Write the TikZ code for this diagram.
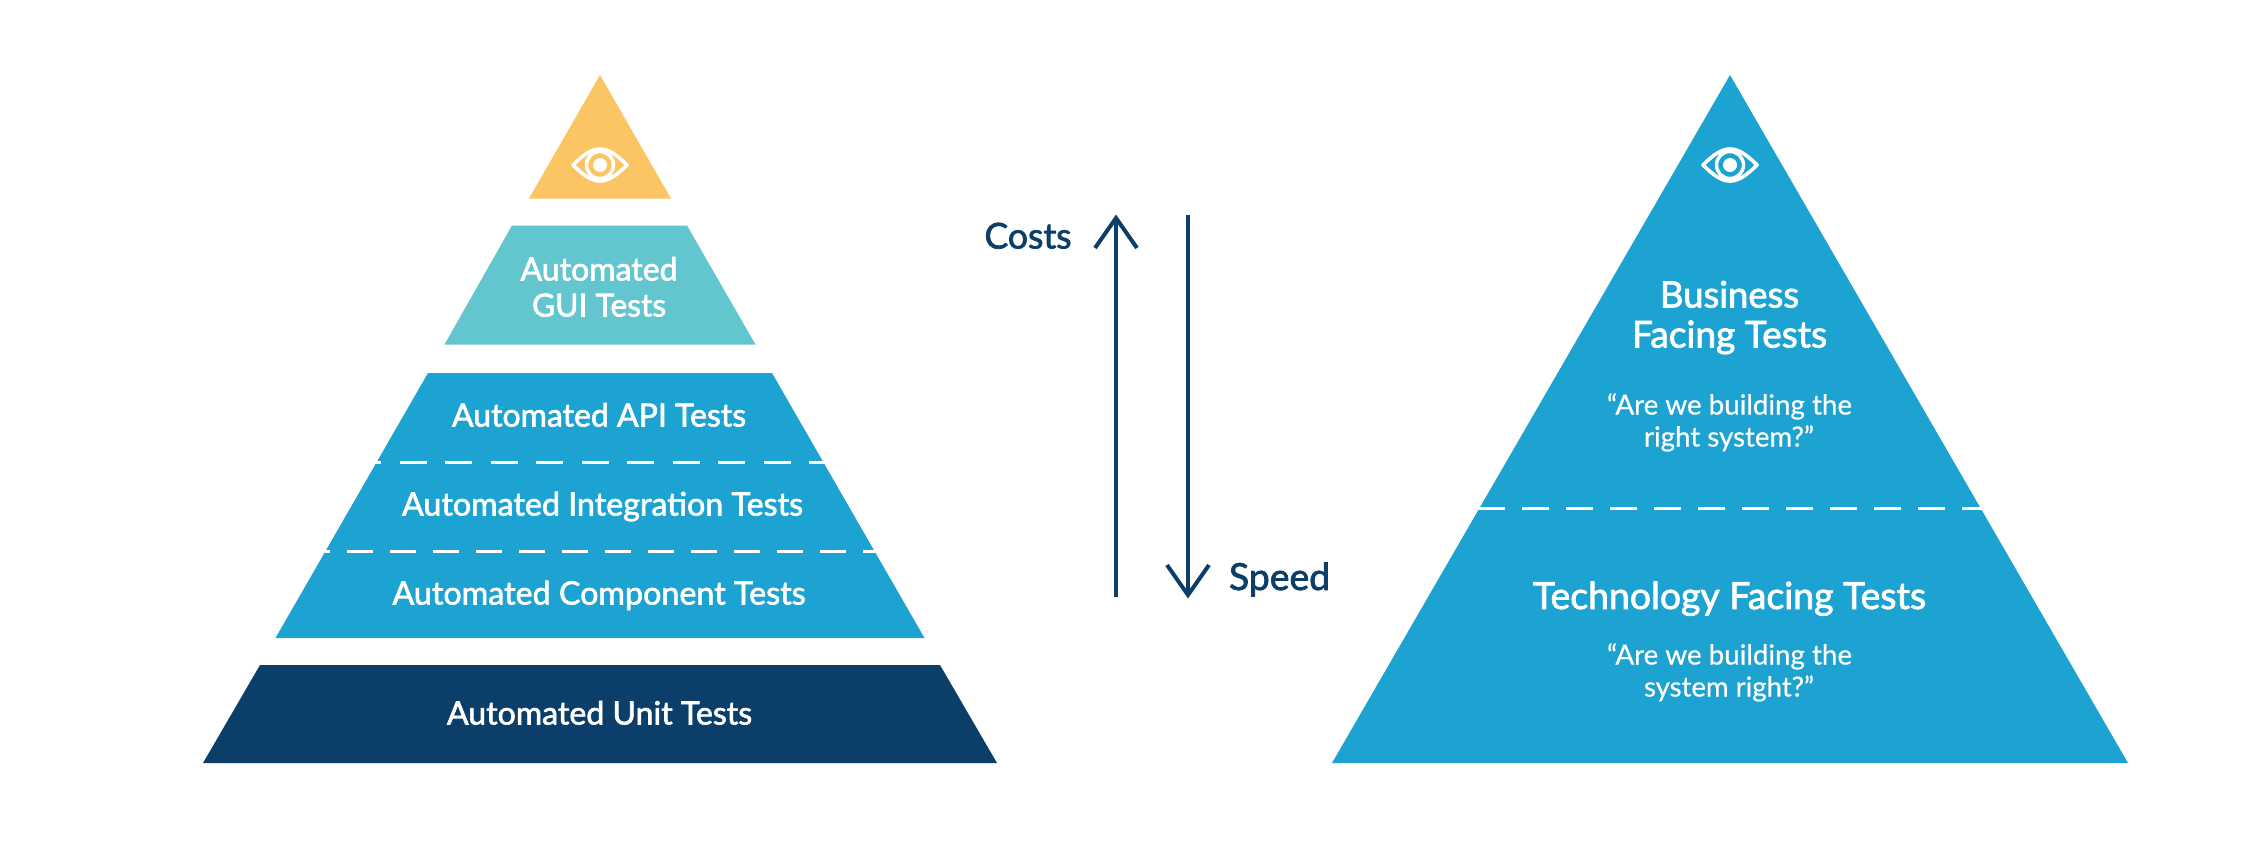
\documentclass[tikz,border=0pt]{standalone}
\usepackage{fontspec}
\setmainfont[FakeBold=0.5]{Lato}
\newfontfamily\med[FakeBold=2]{Lato}
\definecolor{cyellow}{HTML}{FBC564}
\definecolor{cteal}{HTML}{63C6CE}
\definecolor{cblue}{HTML}{1DA3D2}
\definecolor{cnavy}{HTML}{0B3F69}
\newcommand{\fitw}[2]{\resizebox{#1pt}{!}{#2}}
\tikzset{
  x=1pt,y=-1pt,
  lbl/.style={anchor=base,text=white,inner sep=0pt,outer sep=0pt},
  sep/.style={draw=white,line width=3.9pt},
  axis/.style={draw=cnavy,line width=4pt},
  axlbl/.style={anchor=base,text=cnavy,inner sep=0pt,outer sep=0pt},
  eye/.pic={
    \draw[white,line width=3.6pt,line join=round]
      (-27,0) .. controls (-16,-11) and (-8,-16) .. (0,-16) .. controls (8,-16) and (16,-11) .. (27,0)
      .. controls (16,11) and (8,16) .. (0,16) .. controls (-8,16) and (-16,11) .. (-27,0) -- cycle;
    \draw[white,line width=3.4pt] (0,0) circle (13.5);
    \fill[white] (0,0) circle (7);
  }
}
\begin{document}
\begin{tikzpicture}
\useasboundingbox (0,0) rectangle (2268,860);
\fill[white] (0,0) rectangle (2268,860);
% left pyramid
\fill[cyellow] (600,75) -- (671,198.5) -- (529,198.5) -- cycle;
\pic at (600,165) {eye};
\fill[cteal] (512,225.5) -- (687,225.5) -- (755.5,344.5) -- (444.5,344.5) -- cycle;
\fill[cblue] (428,373) -- (772,373) -- (924.5,638) -- (275.5,638) -- cycle;
\fill[cnavy] (260,665) -- (940,665) -- (997,763) -- (203,763) -- cycle;
\coordinate (d1a) at (375,462.5); \coordinate (d1b) at (825,462.5);
\coordinate (d2a) at (325,551.5); \coordinate (d2b) at (876,551.5);
\draw[sep,dash pattern=on 27pt off 18.5pt,dash phase=21pt] (d1a) -- (d1b);
\draw[sep,dash pattern=on 26pt off 17pt,dash phase=21pt] (d2a) -- (d2b);
\node[lbl] (gui1) at (599,280.5) {\fitw{157}{\med Automated}};
\node[lbl] (gui2) at (599,316.5) {\fitw{134}{\med GUI Tests}};
\node[lbl] (api) at (599,426.5) {\fitw{294}{\med Automated API Tests}};
\node[lbl] (int) at (602.5,515.5) {\fitw{401}{\med Automated Integration Tests}};
\node[lbl] (comp) at (599,604.5) {\fitw{413}{\med Automated Component Tests}};
\node[lbl] (unit) at (599.5,724.5) {\fitw{305}{\med Automated Unit Tests}};
% arrows
\coordinate (upa) at (1116,597); \coordinate (upb) at (1116,218);
\coordinate (upl) at (1095,248); \coordinate (upr) at (1137,248);
\coordinate (dna) at (1188,215); \coordinate (dnb) at (1188,595);
\coordinate (dnl) at (1167,565); \coordinate (dnr) at (1209,565);
\draw[axis] (upa) -- (upb);
\draw[axis,line join=miter] (upl) -- (upb) -- (upr);
\draw[axis] (dna) -- (dnb);
\draw[axis,line join=miter] (dnl) -- (dnb) -- (dnr);
\node[axlbl] (costs) at (1028,248.5) {\fitw{87}{\med Costs}};
\node[axlbl] (speed) at (1279.5,590) {\fitw{101}{\med Speed}};
% right pyramid
\fill[cblue] (1730,75) -- (2128,763) -- (1332,763) -- cycle;
\pic at (1730,165) {eye};
\coordinate (d3a) at (1478,508.5); \coordinate (d3b) at (1983,508.5);
\draw[sep,dash pattern=on 26.7pt off 17.3pt] (d3a) -- (d3b);
\node[lbl] (b1) at (1729.5,307.5) {\fitw{139}{\med Business}};
\node[lbl] (b2) at (1729.5,347.5) {\fitw{195}{\med Facing Tests}};
\node[lbl] (q1) at (1729.5,414.5) {\fitw{245}{“Are we building the}};
\node[lbl] (q2) at (1729,446.5) {\fitw{170}{right system?”}};
\node[lbl] (t1) at (1729.5,609) {\fitw{393}{\med Technology Facing Tests}};
\node[lbl] (q3) at (1729.5,664.5) {\fitw{245}{“Are we building the}};
\node[lbl] (q4) at (1729,696.5) {\fitw{170}{system right?”}};
\end{tikzpicture}
\end{document}
